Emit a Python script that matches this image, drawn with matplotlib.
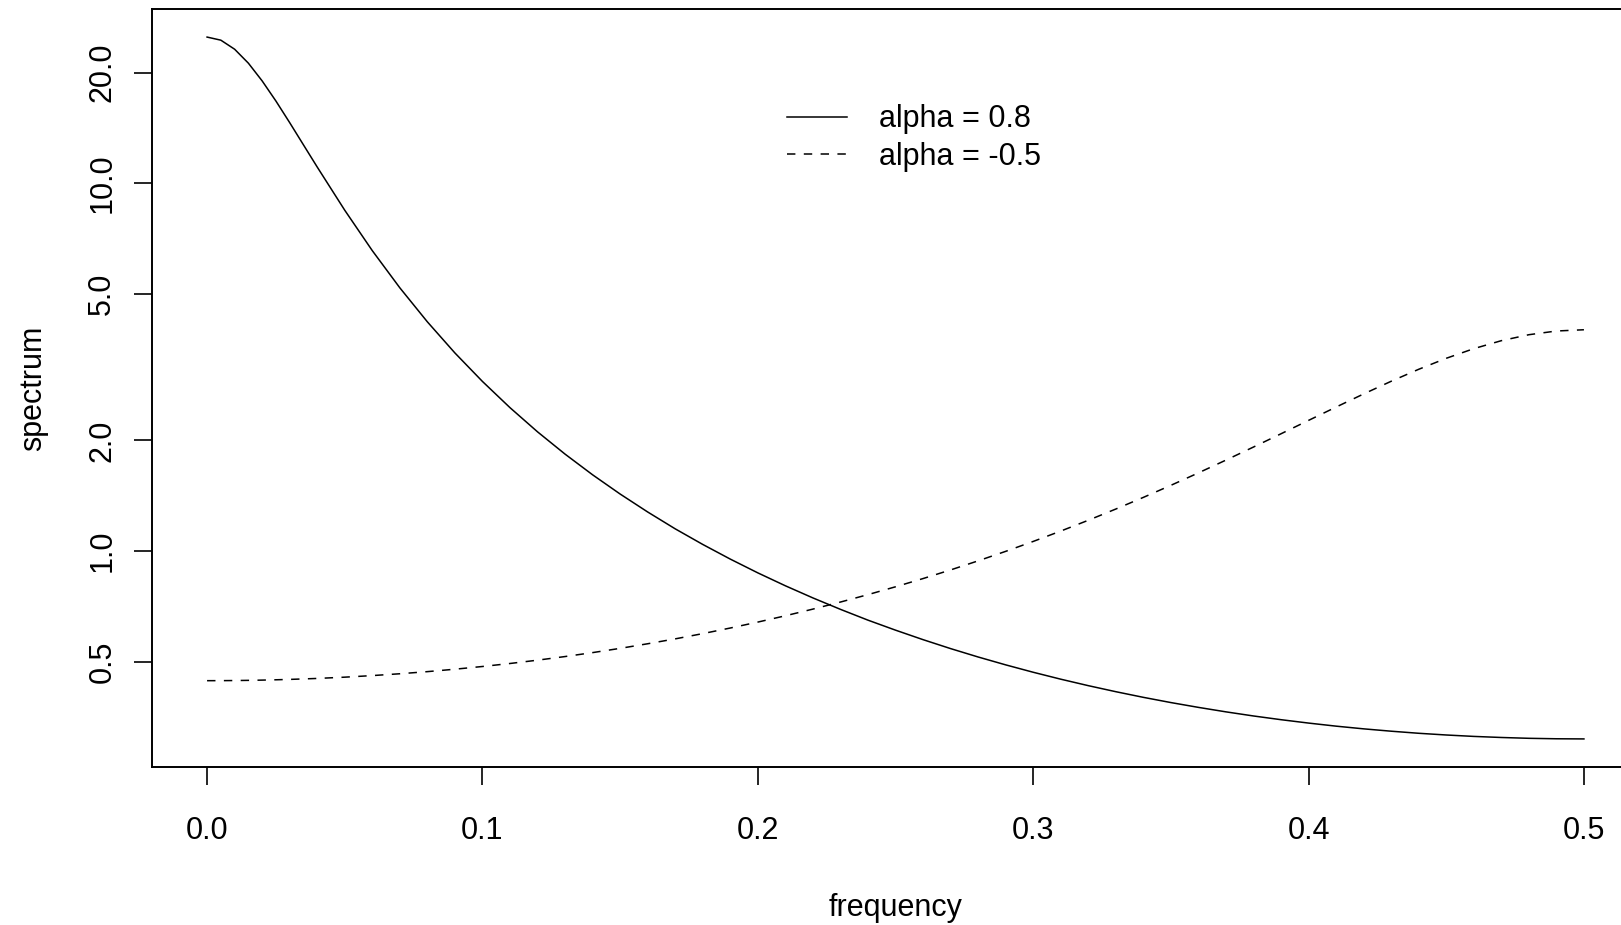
import numpy as np
import matplotlib
matplotlib.use("Agg")
import matplotlib.pyplot as plt
from matplotlib.ticker import FixedLocator, NullLocator

plt.rcParams['font.family'] = ['Liberation Sans', 'DejaVu Sans']

# frequencies (finer near 0 where the peak is sharp)
freq = [0.0, 0.005, 0.01, 0.015, 0.02, 0.025, 0.03, 0.035, 0.04] + [i / 100 for i in range(5, 51)]

# spectrum, alpha = 0.8 (solid)
spec_pos = [25.0, 24.52, 23.17, 21.23, 19.00, 16.75, 14.63, 12.73, 11.08,
            8.453, 6.564, 5.201, 4.203, 3.459,
            2.894, 2.456, 2.111, 1.836, 1.613, 1.430, 1.278, 1.150, 1.043, 0.9515,
            0.8729, 0.8051, 0.7462, 0.6947, 0.6492, 0.6098, 0.5746, 0.5433, 0.5155, 0.4907,
            0.4685, 0.4486, 0.4308, 0.4148, 0.4004, 0.3875, 0.3760, 0.3656, 0.3563, 0.3481,
            0.3408, 0.3343, 0.3287, 0.3239, 0.3197, 0.3163, 0.3135, 0.3114, 0.3098, 0.3089,
            0.3086]

# spectrum, alpha = -0.5 (dashed)
spec_neg = [0.4444, 0.4445, 0.4448, 0.4453, 0.4460, 0.4469, 0.4480, 0.4493, 0.4507,
            0.4543, 0.4588, 0.4641, 0.4703, 0.4775,
            0.4857, 0.4949, 0.5053, 0.5169, 0.5298, 0.5441, 0.5600, 0.5774, 0.5967, 0.6180,
            0.6414, 0.6672, 0.6957, 0.7271, 0.7617, 0.8, 0.8423, 0.8891, 0.9411, 0.9987,
            1.0627, 1.1339, 1.2133, 1.3017, 1.4002, 1.5101, 1.6324, 1.7685, 1.9193, 2.0855,
            2.2677, 2.4651, 2.6760, 2.8971, 3.1228, 3.3452, 3.5534, 3.7354, 3.8776, 3.9687,
            4.0]

xticks = [0.0, 0.1, 0.2, 0.3, 0.4, 0.5]
yticks = [0.5, 1.0, 2.0, 5.0, 10.0, 20.0]

W, H = 1621, 925
fig = plt.figure(figsize=(W / 100, H / 100), dpi=100)
# plot region (right edge runs past the image, as in the reference)
left, right, bottom, top = 152, 1639, 767, 9
ax = fig.add_axes([left / W, (H - bottom) / H, (right - left) / W, (bottom - top) / H])

ax.plot(freq, spec_pos, color='black', lw=1.1, label='alpha = 0.8')
ax.plot(freq, spec_neg, color='black', lw=1.1, dashes=(5.5, 5.5), label='alpha = -0.5')

ax.set_yscale('log')
lo, hi = np.log10(min(spec_pos)), np.log10(max(spec_pos))
pad = 0.04 * (hi - lo)
ax.set_ylim(10 ** (lo - pad), 10 ** (hi + pad))
ax.set_xlim(-0.02, 0.52)

ax.xaxis.set_major_locator(FixedLocator(xticks))
ax.set_xticklabels([f"{t:.1f}" for t in xticks])
ax.yaxis.set_major_locator(FixedLocator(yticks))
ax.yaxis.set_minor_locator(NullLocator())
ax.set_yticklabels([f"{t:.1f}" for t in yticks], rotation=90, va='center')

ax.tick_params(axis='both', length=13, width=1.2, labelsize=22, color='black')
ax.tick_params(axis='x', pad=22)
ax.tick_params(axis='y', pad=12)
for s in ax.spines.values():
    s.set_linewidth(1.4)

ax.set_xlabel('frequency', fontsize=22, labelpad=34)
ax.set_ylabel('spectrum', fontsize=22, labelpad=28)

ax.legend(loc='upper left', bbox_to_anchor=((775 - left) / (right - left), (bottom - 92) / (bottom - top)),
          frameon=False, fontsize=22, handlelength=1.95, handletextpad=1.05,
          labelspacing=0.25, borderaxespad=0)

fig.savefig('out.png', dpi=100)
